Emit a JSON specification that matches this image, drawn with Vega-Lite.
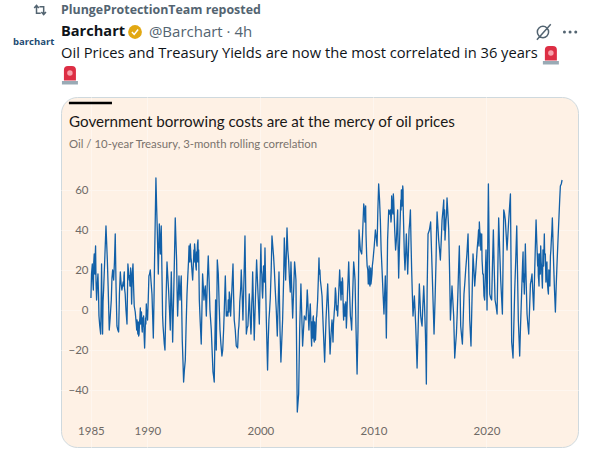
{
  "$schema": "https://vega.github.io/schema/vega-lite/v6.json",
  "width": 517,
  "height": 350,
  "autosize": "none",
  "padding": {"left": 61, "top": 97, "right": 11, "bottom": 5},
  "background": "#ffffff",
  "view": {"fill": "#fef1e5", "stroke": "#cfd9de", "strokeWidth": 1, "cornerRadius": 16},
  "config": {"font": "Open Sans"},
  "title": {
    "text": "Government borrowing costs are at the mercy of oil prices",
    "subtitle": "Oil / 10-year Treasury, 3-month rolling correlation",
    "anchor": "start",
    "frame": "group",
    "dx": 8,
    "dy": 102,
    "offset": -46,
    "font": "Lato",
    "fontSize": 15.2,
    "fontWeight": "normal",
    "color": "#1a1817",
    "subtitleFont": "Lato",
    "subtitleFontSize": 11.4,
    "subtitleColor": "#7a736d",
    "subtitlePadding": 9
  },
  "datasets": {
    "series": [
      {"year":1985.00,"value":6},{"year":1985.12,"value":23},{"year":1985.21,"value":10},{"year":1985.29,"value":28},{"year":1985.35,"value":18},{"year":1985.41,"value":32},{"year":1985.50,"value":5},{"year":1985.62,"value":18},{"year":1985.71,"value":-3},{"year":1985.86,"value":-12},{"year":1985.94,"value":23},{"year":1986.03,"value":-12},{"year":1986.12,"value":10},{"year":1986.33,"value":42},{"year":1986.45,"value":25},{"year":1986.62,"value":-10},{"year":1986.80,"value":5},{"year":1986.92,"value":20},{"year":1987.01,"value":15},{"year":1987.15,"value":38},{"year":1987.30,"value":-8},{"year":1987.45,"value":-11},{"year":1987.60,"value":19},{"year":1987.74,"value":10},{"year":1987.95,"value":19},{"year":1988.10,"value":0},{"year":1988.19,"value":-7},{"year":1988.27,"value":23},{"year":1988.39,"value":15},{"year":1988.51,"value":21},{"year":1988.60,"value":3},{"year":1988.72,"value":23},{"year":1988.83,"value":2},{"year":1989.01,"value":-7},{"year":1989.22,"value":-13},{"year":1989.37,"value":1},{"year":1989.51,"value":-9},{"year":1989.66,"value":-3},{"year":1989.75,"value":-19},{"year":1989.90,"value":3},{"year":1990.01,"value":-5},{"year":1990.13,"value":17},{"year":1990.25,"value":20},{"year":1990.40,"value":8},{"year":1990.52,"value":-14},{"year":1990.63,"value":25},{"year":1990.75,"value":66},{"year":1990.87,"value":40},{"year":1990.96,"value":18},{"year":1991.05,"value":43},{"year":1991.14,"value":28},{"year":1991.22,"value":42},{"year":1991.34,"value":-3},{"year":1991.43,"value":-12},{"year":1991.55,"value":-20},{"year":1991.73,"value":24},{"year":1991.87,"value":10},{"year":1992.02,"value":-10},{"year":1992.11,"value":19},{"year":1992.23,"value":-16},{"year":1992.46,"value":46},{"year":1992.58,"value":25},{"year":1992.67,"value":-3},{"year":1992.79,"value":17},{"year":1992.88,"value":5},{"year":1992.99,"value":17},{"year":1993.08,"value":-15},{"year":1993.20,"value":-36},{"year":1993.35,"value":-25},{"year":1993.50,"value":8},{"year":1993.64,"value":25},{"year":1993.79,"value":33},{"year":1993.91,"value":22},{"year":1994.00,"value":15},{"year":1994.17,"value":33},{"year":1994.32,"value":20},{"year":1994.47,"value":35},{"year":1994.59,"value":5},{"year":1994.76,"value":-17},{"year":1994.88,"value":18},{"year":1995.00,"value":5},{"year":1995.12,"value":12},{"year":1995.21,"value":-3},{"year":1995.38,"value":27},{"year":1995.53,"value":0},{"year":1995.65,"value":-10},{"year":1995.80,"value":-31},{"year":1995.91,"value":-36},{"year":1996.03,"value":5},{"year":1996.09,"value":-20},{"year":1996.18,"value":25},{"year":1996.27,"value":18},{"year":1996.42,"value":-10},{"year":1996.59,"value":-23},{"year":1996.74,"value":-10},{"year":1996.89,"value":17},{"year":1996.98,"value":-3},{"year":1997.12,"value":-3},{"year":1997.24,"value":9},{"year":1997.36,"value":-3},{"year":1997.57,"value":23},{"year":1997.68,"value":-5},{"year":1997.86,"value":-18},{"year":1997.98,"value":-19},{"year":1998.13,"value":-3},{"year":1998.30,"value":20},{"year":1998.45,"value":-5},{"year":1998.63,"value":37},{"year":1998.75,"value":-12},{"year":1998.89,"value":-8},{"year":1999.01,"value":8},{"year":1999.16,"value":-12},{"year":1999.31,"value":19},{"year":1999.45,"value":-15},{"year":1999.66,"value":25},{"year":1999.81,"value":5},{"year":1999.90,"value":-7},{"year":2000.04,"value":33},{"year":2000.19,"value":6},{"year":2000.40,"value":31},{"year":2000.52,"value":-5},{"year":2000.63,"value":-30},{"year":2000.75,"value":-5},{"year":2000.87,"value":6},{"year":2001.02,"value":37},{"year":2001.16,"value":27},{"year":2001.31,"value":10},{"year":2001.49,"value":-13},{"year":2001.64,"value":19},{"year":2001.73,"value":-10},{"year":2001.81,"value":-26},{"year":2001.96,"value":-5},{"year":2002.11,"value":36},{"year":2002.23,"value":15},{"year":2002.35,"value":41},{"year":2002.49,"value":25},{"year":2002.64,"value":9},{"year":2002.70,"value":24},{"year":2002.85,"value":-4},{"year":2003.02,"value":24},{"year":2003.14,"value":15},{"year":2003.20,"value":-20},{"year":2003.26,"value":-51},{"year":2003.38,"value":-42},{"year":2003.47,"value":-10},{"year":2003.58,"value":13},{"year":2003.73,"value":-18},{"year":2003.88,"value":-3},{"year":2004.03,"value":-5},{"year":2004.14,"value":10},{"year":2004.29,"value":-10},{"year":2004.41,"value":3},{"year":2004.53,"value":-18},{"year":2004.65,"value":-4},{"year":2004.76,"value":-16},{"year":2004.91,"value":-10},{"year":2005.06,"value":5},{"year":2005.18,"value":26},{"year":2005.30,"value":15},{"year":2005.45,"value":7},{"year":2005.68,"value":-26},{"year":2005.95,"value":13},{"year":2006.16,"value":-22},{"year":2006.33,"value":-5},{"year":2006.42,"value":-16},{"year":2006.63,"value":11},{"year":2006.72,"value":0},{"year":2006.83,"value":-3},{"year":2007.01,"value":20},{"year":2007.13,"value":5},{"year":2007.25,"value":16},{"year":2007.36,"value":-5},{"year":2007.51,"value":0},{"year":2007.60,"value":-9},{"year":2007.81,"value":24},{"year":2007.96,"value":-3},{"year":2008.07,"value":-10},{"year":2008.25,"value":24},{"year":2008.37,"value":15},{"year":2008.55,"value":-32},{"year":2008.72,"value":40},{"year":2008.84,"value":30},{"year":2008.96,"value":28},{"year":2009.14,"value":53},{"year":2009.28,"value":48},{"year":2009.40,"value":27},{"year":2009.58,"value":16},{"year":2009.73,"value":17},{"year":2009.78,"value":13},{"year":2009.96,"value":25},{"year":2010.17,"value":40},{"year":2010.32,"value":32},{"year":2010.46,"value":63},{"year":2010.61,"value":45},{"year":2010.76,"value":20},{"year":2010.93,"value":-2},{"year":2011.05,"value":17},{"year":2011.14,"value":-14},{"year":2011.35,"value":50},{"year":2011.50,"value":50},{"year":2011.61,"value":57},{"year":2011.76,"value":58},{"year":2011.88,"value":40},{"year":2012.03,"value":35},{"year":2012.14,"value":50},{"year":2012.23,"value":16},{"year":2012.38,"value":48},{"year":2012.47,"value":60},{"year":2012.59,"value":62},{"year":2012.68,"value":40},{"year":2012.79,"value":20},{"year":2012.91,"value":38},{"year":2013.03,"value":18},{"year":2013.15,"value":40},{"year":2013.27,"value":50},{"year":2013.38,"value":20},{"year":2013.50,"value":-3},{"year":2013.62,"value":7},{"year":2013.74,"value":-8},{"year":2013.86,"value":-29},{"year":2014.06,"value":13},{"year":2014.18,"value":-3},{"year":2014.30,"value":-8},{"year":2014.45,"value":12},{"year":2014.59,"value":-10},{"year":2014.68,"value":-37},{"year":2014.83,"value":38},{"year":2015.06,"value":44},{"year":2015.18,"value":22},{"year":2015.36,"value":-12},{"year":2015.54,"value":25},{"year":2015.63,"value":49},{"year":2015.77,"value":35},{"year":2015.92,"value":25},{"year":2016.07,"value":45},{"year":2016.22,"value":55},{"year":2016.33,"value":35},{"year":2016.51,"value":56},{"year":2016.66,"value":40},{"year":2016.81,"value":-5},{"year":2016.95,"value":12},{"year":2017.10,"value":-3},{"year":2017.19,"value":-24},{"year":2017.34,"value":-12},{"year":2017.48,"value":10},{"year":2017.60,"value":32},{"year":2017.72,"value":-8},{"year":2017.87,"value":-17},{"year":2018.01,"value":8},{"year":2018.16,"value":20},{"year":2018.37,"value":38},{"year":2018.52,"value":-5},{"year":2018.63,"value":-18},{"year":2018.81,"value":28},{"year":2018.96,"value":12},{"year":2019.17,"value":30},{"year":2019.37,"value":44},{"year":2019.55,"value":33},{"year":2019.67,"value":18},{"year":2019.84,"value":5},{"year":2019.96,"value":30},{"year":2020.05,"value":0},{"year":2020.17,"value":63},{"year":2020.29,"value":8},{"year":2020.46,"value":5},{"year":2020.61,"value":40},{"year":2020.76,"value":5},{"year":2020.94,"value":-2},{"year":2021.08,"value":46},{"year":2021.26,"value":15},{"year":2021.41,"value":-2},{"year":2021.53,"value":50},{"year":2021.67,"value":45},{"year":2021.82,"value":30},{"year":2021.97,"value":45},{"year":2022.12,"value":58},{"year":2022.23,"value":-16},{"year":2022.35,"value":-24},{"year":2022.50,"value":10},{"year":2022.68,"value":42},{"year":2022.82,"value":-5},{"year":2022.94,"value":-23},{"year":2023.09,"value":5},{"year":2023.24,"value":29},{"year":2023.35,"value":8},{"year":2023.44,"value":33},{"year":2023.59,"value":-2},{"year":2023.74,"value":-12},{"year":2023.89,"value":13},{"year":2024.03,"value":18},{"year":2024.18,"value":0},{"year":2024.39,"value":45},{"year":2024.53,"value":22},{"year":2024.65,"value":12},{"year":2024.80,"value":32},{"year":2024.95,"value":11},{"year":2025.12,"value":38},{"year":2025.30,"value":20},{"year":2025.48,"value":8},{"year":2025.66,"value":27},{"year":2025.83,"value":46},{"year":2025.95,"value":22},{"year":2026.10,"value":-1},{"year":2026.25,"value":24},{"year":2026.42,"value":47},{"year":2026.54,"value":62},{"year":2026.69,"value":65},
      {"year":1985.05,"value":18},{"year":1985.16,"value":15},{"year":1985.25,"value":24},{"year":1985.32,"value":22},{"year":1985.45,"value":14},{"year":1985.55,"value":12},{"year":1985.67,"value":8},{"year":1985.78,"value":-8},{"year":1985.90,"value":3},{"year":1985.98,"value":2},{"year":1986.07,"value":4},{"year":1986.22,"value":25},{"year":1986.38,"value":35},{"year":1986.52,"value":12},{"year":1986.70,"value":-4},{"year":1986.86,"value":16},{"year":1987.08,"value":24},{"year":1987.22,"value":12},{"year":1987.38,"value":-10},{"year":1987.52,"value":8},{"year":1987.67,"value":13},{"year":1987.85,"value":14},{"year":1988.03,"value":8},{"year":1988.45,"value":12},{"year":1988.66,"value":18},{"year":1988.77,"value":12},{"year":1988.92,"value":-1},{"year":1989.11,"value":-9},{"year":1989.30,"value":-6},{"year":1989.44,"value":-3},{"year":1989.58,"value":-4},{"year":1989.70,"value":-12},{"year":1989.83,"value":-4},{"year":1989.96,"value":0},{"year":1990.07,"value":5},
      {"year":1990.19,"value":18},{"year":1990.32,"value":14},{"year":1990.46,"value":-3},{"year":1990.58,"value":5},{"year":1990.69,"value":45},{"year":1990.81,"value":52},{"year":1991.00,"value":30},{"year":1991.10,"value":35},{"year":1991.18,"value":35},{"year":1991.28,"value":20},{"year":1991.38,"value":-8},{"year":1991.49,"value":-17},{"year":1991.64,"value":4},{"year":1991.80,"value":17},{"year":1991.95,"value":0},{"year":1992.06,"value":5},{"year":1992.17,"value":2},{"year":1992.35,"value":15},{"year":1992.52,"value":35},{"year":1992.62,"value":10},{"year":1992.73,"value":7},{"year":1992.83,"value":11},{"year":1992.93,"value":11},{"year":1993.03,"value":2},{"year":1993.14,"value":-25},{"year":1993.27,"value":-30},{"year":1993.42,"value":-8},{"year":1993.57,"value":17},
      {"year":1993.72,"value":28},{"year":1993.85,"value":26},{"year":1993.96,"value":18},{"year":1994.08,"value":25},{"year":1994.25,"value":26},{"year":1994.40,"value":28},{"year":1994.53,"value":30},{"year":1994.67,"value":-6},{"year":1994.82,"value":0},{"year":1994.94,"value":12},{"year":1995.05,"value":9},{"year":1995.16,"value":5},{"year":1995.30,"value":15},{"year":1995.46,"value":14},{"year":1995.59,"value":-5},{"year":1995.72,"value":-20},{"year":1995.85,"value":-33},{"year":1995.97,"value":-15},{"year":1996.06,"value":-7},{"year":1996.14,"value":2},{"year":1996.22,"value":22},
      {"year":1996.35,"value":2},{"year":1996.50,"value":-17},{"year":1996.66,"value":-20},{"year":1996.80,"value":0},{"year":1997.05,"value":-1},{"year":1997.18,"value":3},{"year":1997.30,"value":6},{"year":1997.47,"value":10},{"year":1997.62,"value":8},{"year":1997.77,"value":-10},{"year":1998.05,"value":-10},{"year":1998.22,"value":8},{"year":1998.38,"value":8},{"year":1998.54,"value":15},{"year":1998.69,"value":12},{"year":1998.82,"value":-9},{"year":1998.95,"value":0},{"year":1999.08,"value":-2},{"year":1999.23,"value":3},{"year":1999.38,"value":2},{"year":1999.55,"value":5},{"year":1999.74,"value":14},{"year":1999.97,"value":15},{"year":2000.12,"value":18},{"year":2000.30,"value":18},{"year":2000.46,"value":12},{"year":2000.69,"value":-15},{"year":2000.81,"value":0},{"year":2000.95,"value":20},{"year":2001.09,"value":32},{"year":2001.23,"value":20},{"year":2001.40,"value":0},{"year":2001.57,"value":4},{"year":2001.69,"value":3},{"year":2002.05,"value":15},{"year":2002.17,"value":25},{"year":2002.29,"value":28},{"year":2002.42,"value":30},{"year":2002.57,"value":15},{"year":2002.78,"value":8},{"year":2002.94,"value":10},{"year":2003.08,"value":20},
      {"year":2004.09,"value":2},{"year":2004.22,"value":0},{"year":2004.35,"value":-3},{"year":2004.47,"value":-8},{"year":2004.59,"value":-10},{"year":2004.71,"value":-9},{"year":2004.84,"value":-13},{"year":2004.98,"value":-3},
      {"year":2005.38,"value":11},{"year":2005.55,"value":-8},{"year":2005.80,"value":-5},{"year":2006.05,"value":-3},{"year":2006.25,"value":-12},{"year":2006.38,"value":-10},{"year":2006.52,"value":-2},{"year":2006.78,"value":2},{"year":2006.92,"value":8},{"year":2007.07,"value":12},{"year":2007.19,"value":10},{"year":2007.31,"value":5},{"year":2007.44,"value":-2},{"year":2007.70,"value":8},{"year":2007.88,"value":10},{"year":2008.02,"value":-6},{"year":2008.16,"value":8},{"year":2008.31,"value":20},{"year":2008.46,"value":-10},{"year":2008.63,"value":-10},{"year":2008.78,"value":35},{"year":2009.05,"value":40},{"year":2009.21,"value":50},{"year":2009.34,"value":38},{"year":2009.50,"value":20},{"year":2009.66,"value":13},{"year":2009.87,"value":18},{"year":2010.07,"value":32},{"year":2010.25,"value":36},{"year":2010.39,"value":50},{"year":2010.54,"value":55},{"year":2010.68,"value":30},{"year":2010.85,"value":8},{"year":2010.99,"value":8},{"year":2011.10,"value":0},{"year":2011.25,"value":35},{"year":2011.42,"value":48},{"year":2011.55,"value":44},{"year":2011.68,"value":50},{"year":2011.82,"value":50},{"year":2011.96,"value":30},{"year":2012.08,"value":42},{"year":2012.18,"value":32},{"year":2012.30,"value":32},{"year":2012.42,"value":55},{"year":2012.53,"value":52},{"year":2012.63,"value":52},{"year":2012.73,"value":28},{"year":2012.85,"value":28},{"year":2012.97,"value":28},{"year":2013.09,"value":28},{"year":2013.21,"value":44},{"year":2013.32,"value":35},{"year":2013.44,"value":8},{"year":2013.56,"value":2},{"year":2013.68,"value":0},{"year":2013.80,"value":-18},{"year":2013.96,"value":-8},{"year":2014.12,"value":5},{"year":2014.24,"value":-6},{"year":2014.37,"value":2},{"year":2014.52,"value":2},{"year":2014.64,"value":-22},{"year":2014.75,"value":10},{"year":2014.95,"value":40},{"year":2015.12,"value":33},{"year":2015.27,"value":5},{"year":2015.45,"value":5},{"year":2015.58,"value":38},{"year":2015.70,"value":42},{"year":2015.85,"value":30},{"year":2016.00,"value":35},{"year":2016.15,"value":50},{"year":2016.27,"value":45},{"year":2016.42,"value":45},{"year":2016.59,"value":48},{"year":2016.74,"value":18},{"year":2016.88,"value":3},{"year":2017.03,"value":4},{"year":2017.26,"value":-18},{"year":2017.41,"value":-2},{"year":2017.54,"value":22},{"year":2017.66,"value":12},{"year":2017.80,"value":-13},{"year":2017.94,"value":-5},{"year":2018.09,"value":14},{"year":2018.27,"value":28},{"year":2018.45,"value":15},{"year":2018.58,"value":-12},{"year":2018.72,"value":5},{"year":2018.89,"value":20},{"year":2019.06,"value":20},{"year":2019.27,"value":37},{"year":2019.46,"value":38},{"year":2019.61,"value":25},{"year":2019.75,"value":12},{"year":2019.90,"value":18},{"year":2020.01,"value":15},{"year":2020.11,"value":30},{"year":2020.23,"value":35},{"year":2020.37,"value":6},{"year":2020.53,"value":22},{"year":2020.68,"value":22},{"year":2020.85,"value":2},{"year":2021.01,"value":22},{"year":2021.17,"value":30},{"year":2021.34,"value":6},{"year":2021.47,"value":25},{"year":2021.60,"value":48},{"year":2021.74,"value":38},{"year":2021.90,"value":38},{"year":2022.05,"value":52},{"year":2022.18,"value":20},{"year":2022.29,"value":-20},{"year":2022.42,"value":-8},{"year":2022.59,"value":25},{"year":2022.75,"value":18},{"year":2022.88,"value":-14},{"year":2023.01,"value":-9},{"year":2023.16,"value":17},{"year":2023.30,"value":18},{"year":2023.40,"value":20},{"year":2023.51,"value":15},{"year":2023.66,"value":-7},{"year":2023.81,"value":0},{"year":2023.96,"value":15},{"year":2024.10,"value":9},{"year":2024.28,"value":22},{"year":2024.46,"value":33},{"year":2024.59,"value":17},{"year":2024.72,"value":22},{"year":2024.88,"value":21},{"year":2025.03,"value":24},{"year":2025.21,"value":28},{"year":2025.39,"value":14},{"year":2025.57,"value":17},{"year":2025.75,"value":36},{"year":2025.89,"value":34},{"year":2026.02,"value":10},{"year":2026.17,"value":12},{"year":2026.33,"value":35},{"year":2026.48,"value":55},{"year":2026.62,"value":63},
      {"year":1985.31,"value":20},{"year":1985.33,"value":27},{"year":1985.37,"value":21},{"year":1985.39,"value":29},{"year":1987.90,"value":12},{"year":1987.92,"value":17},{"year":1987.97,"value":11},{"year":1988.42,"value":17},{"year":1988.48,"value":12},{"year":1988.54,"value":19},{"year":1989.05,"value":-10},{"year":1989.08,"value":-5},{"year":1989.15,"value":-12},{"year":1989.18,"value":-6},{"year":1989.26,"value":-12},{"year":1989.33,"value":-4},{"year":1989.40,"value":-7},{"year":1989.47,"value":-1},{"year":1989.54,"value":-11},{"year":1989.62,"value":-8},{"year":1989.86,"value":-7},{"year":1989.93,"value":-1},{"year":1993.68,"value":32},{"year":1993.75,"value":24},{"year":1993.82,"value":30},{"year":1993.88,"value":25},{"year":1994.11,"value":30},{"year":1994.14,"value":24},{"year":1994.21,"value":30},{"year":1994.28,"value":22},{"year":1994.35,"value":29},{"year":1994.38,"value":24},{"year":1994.43,"value":33},{"year":1994.50,"value":24},{"year":1997.15,"value":5},{"year":1997.21,"value":-1},{"year":1997.27,"value":8},{"year":1997.33,"value":1},{"year":1998.09,"value":-8},{"year":1998.17,"value":4},{"year":1998.26,"value":12},{"year":1999.12,"value":-7},{"year":1999.19,"value":-8},{"year":1999.27,"value":8},{"year":2000.08,"value":20},{"year":2000.15,"value":10},{"year":2000.23,"value":12},{"year":2000.27,"value":22},{"year":2000.35,"value":14},{"year":2004.18,"value":6},{"year":2004.25,"value":-5},{"year":2004.32,"value":-6},{"year":2004.38,"value":0},{"year":2004.44,"value":-2},{"year":2004.50,"value":-14},{"year":2004.56,"value":-6},{"year":2004.62,"value":-14},{"year":2004.68,"value":-3},{"year":2004.73,"value":-15},{"year":2004.80,"value":-6},{"year":2004.87,"value":-15},{"year":2004.95,"value":-4},{"year":2005.12,"value":15},{"year":2005.22,"value":18},{"year":2005.26,"value":20},{"year":2006.46,"value":-7},{"year":2006.58,"value":3},{"year":2006.68,"value":8},{"year":2007.16,"value":14},{"year":2007.22,"value":8},{"year":2007.28,"value":14},{"year":2007.33,"value":-1},{"year":2007.40,"value":3},{"year":2007.48,"value":-3},{"year":2007.55,"value":4},{"year":2007.64,"value":-4},{"year":2007.75,"value":15},{"year":2009.24,"value":44},{"year":2009.31,"value":52},{"year":2009.44,"value":22},{"year":2009.54,"value":13},{"year":2009.62,"value":22},{"year":2009.69,"value":12},{"year":2009.76,"value":21},{"year":2009.82,"value":15},{"year":2009.90,"value":22},{"year":2011.58,"value":46},{"year":2011.64,"value":54},{"year":2011.72,"value":48},{"year":2011.79,"value":55},{"year":2012.44,"value":50},{"year":2012.50,"value":60},{"year":2012.56,"value":54},{"year":2012.62,"value":60},{"year":2016.18,"value":52},{"year":2016.25,"value":40},{"year":2016.30,"value":50},{"year":2016.46,"value":47},{"year":2016.54,"value":53},{"year":2019.30,"value":40},{"year":2019.34,"value":32},{"year":2019.41,"value":39},{"year":2019.50,"value":30},{"year":2019.58,"value":38},{"year":2019.64,"value":22},{"year":2019.72,"value":18},{"year":2019.78,"value":7},{"year":2023.20,"value":24},{"year":2023.27,"value":14},{"year":2024.43,"value":38},{"year":2024.50,"value":27},{"year":2024.56,"value":28},{"year":2024.62,"value":15},{"year":2024.69,"value":28},{"year":2024.76,"value":18},{"year":2024.84,"value":24},{"year":2024.92,"value":15},{"year":2025.00,"value":30},{"year":2025.06,"value":22},{"year":2025.15,"value":28},{"year":2025.26,"value":14},{"year":2025.35,"value":24},{"year":2025.44,"value":10},{"year":2025.52,"value":20},{"year":2025.61,"value":12},{"year":2025.70,"value":30},{"year":2025.79,"value":40}
    ]
  },
  "encoding": {
    "x": {
      "field": "year",
      "type": "quantitative",
      "title": null,
      "scale": {"domain": [1982.35, 2028.1], "nice": false, "zero": false},
      "axis": {
        "values": [1985, 1990, 2000, 2010, 2020],
        "format": "d",
        "offset": -27,
        "grid": true,
        "gridColor": "#fef6ef",
        "domain": false,
        "ticks": false,
        "labelPadding": 5,
        "labelFontSize": 11.5,
        "labelColor": "#6f6a66",
        "labelFont": "Lato",
        "labelFlush": false
      }
    },
    "y": {
      "field": "value",
      "type": "quantitative",
      "title": null,
      "scale": {"domain": [-68.5, 106.5], "nice": false, "zero": false},
      "axis": {
        "values": [-40, -20, 0, 20, 40, 60],
        "offset": -27,
        "grid": true,
        "gridColor": "#fef6ef",
        "domain": false,
        "ticks": false,
        "labelPadding": 0,
        "labelFontSize": 11.5,
        "labelColor": "#6f6a66",
        "labelFont": "Lato"
      }
    }
  },
  "layer": [
    {
      "data": {"name": "series"},
      "mark": {"type": "line", "color": "#1260a8", "strokeWidth": 1.3, "strokeJoin": "round", "interpolate": "linear"}
    },
    {
      "data": {"values": [{"year": 1983.05, "end": 1986.86, "value": 103.5}]},
      "mark": {"type": "rule", "color": "#000000", "strokeWidth": 2.5},
      "encoding": {"x2": {"field": "end"}}
    },
    {
      "data": {"values": [{"year": 1982.35, "value": 150, "label": "PlungeProtectionTeam reposted"}]},
      "mark": {"type": "text", "align": "left", "baseline": "middle", "font": "Open Sans", "fontSize": 12.4, "fontWeight": "bold", "color": "#536471"},
      "encoding": {"text": {"field": "label"}}
    },
    {
      "data": {"values": [{"year": 1982.35, "value": 139, "label": "Barchart"}]},
      "mark": {"type": "text", "align": "left", "baseline": "middle", "font": "Open Sans", "fontSize": 14.6, "fontWeight": "bold", "color": "#0f1419"},
      "encoding": {"text": {"field": "label"}}
    },
    {
      "data": {"values": [{"year": 1990.13, "value": 139, "label": "@Barchart · 4h"}]},
      "mark": {"type": "text", "align": "left", "baseline": "middle", "font": "Open Sans", "fontSize": 15, "color": "#536471"},
      "encoding": {"text": {"field": "label"}}
    },
    {
      "data": {"values": [{"year": 1982.35, "value": 128, "label": "Oil Prices and Treasury Yields are now the most correlated in 36 years"}]},
      "mark": {"type": "text", "align": "left", "baseline": "middle", "font": "Open Sans", "fontSize": 14.7, "color": "#0f1419"},
      "encoding": {"text": {"field": "label"}}
    },
    {
      "data": {"values": [{"year": 1978.1, "value": 134, "label": "barchart"}]},
      "mark": {"type": "text", "align": "left", "baseline": "middle", "font": "Open Sans", "fontSize": 9.5, "fontWeight": "bold", "color": "#1d4a72"},
      "encoding": {"text": {"field": "label"}}
    },
    {
      "data": {"values": [{"year": 1980.5, "value": 150}]},
      "mark": {"type": "point", "filled": false, "size": 170, "strokeWidth": 1.5, "color": "#536471", "opacity": 1, "shape": "M-0.9,-0.3 L-0.55,-0.7 L-0.2,-0.3 M-0.55,-0.7 V0.5 H0.1 M0.9,0.3 L0.55,0.7 L0.2,0.3 M0.55,0.7 V-0.5 H-0.1"}
    },
    {
      "data": {"values": [{"year": 1988.9, "value": 139}]},
      "mark": {"type": "point", "filled": true, "size": 190, "color": "#e2a812", "opacity": 1, "shape": "circle"}
    },
    {
      "data": {"values": [{"year": 1988.9, "value": 139}]},
      "mark": {"type": "point", "filled": false, "size": 190, "strokeWidth": 1.5, "color": "#ffffff", "opacity": 1, "shape": "M-0.45,0 L-0.12,0.35 L0.45,-0.35"}
    },
    {
      "data": {"values": [{"year": 2025.0, "value": 139}]},
      "mark": {"type": "point", "filled": false, "size": 300, "strokeWidth": 1.5, "color": "#536471", "opacity": 1, "shape": "M0.65,0 A0.65,0.65 0 1 1 -0.65,0 A0.65,0.65 0 1 1 0.65,0 M-0.7,0.9 L0.9,-0.9"}
    },
    {
      "data": {"values": [{"year": 2026.9, "value": 139}, {"year": 2027.4, "value": 139}, {"year": 2027.9, "value": 139}]},
      "mark": {"type": "point", "filled": true, "size": 9, "color": "#536471", "opacity": 1, "shape": "circle"}
    },
    {
      "data": {"values": [{"year": 2025.7, "value": 127.5}, {"year": 1983.14, "value": 117.5}]},
      "mark": {"type": "point", "filled": true, "size": 400, "color": "#dd2e44", "opacity": 1, "shape": "M-0.6,0.55 L-0.6,-0.5 Q-0.6,-0.9 -0.2,-0.9 L0.2,-0.9 Q0.6,-0.9 0.6,-0.5 L0.6,0.55 Z"}
    },
    {
      "data": {"values": [{"year": 2025.7, "value": 127.5}, {"year": 1983.14, "value": 117.5}]},
      "mark": {"type": "point", "filled": true, "size": 400, "color": "#99aab5", "opacity": 1, "shape": "M-0.8,0.6 L0.8,0.6 L0.8,0.95 L-0.8,0.95 Z"}
    },
    {
      "data": {"values": [{"year": 2025.7, "value": 128.5}, {"year": 1983.14, "value": 118.5}]},
      "mark": {"type": "point", "filled": true, "size": 30, "color": "#f7a1ab", "opacity": 1, "shape": "circle"}
    }
  ]
}
